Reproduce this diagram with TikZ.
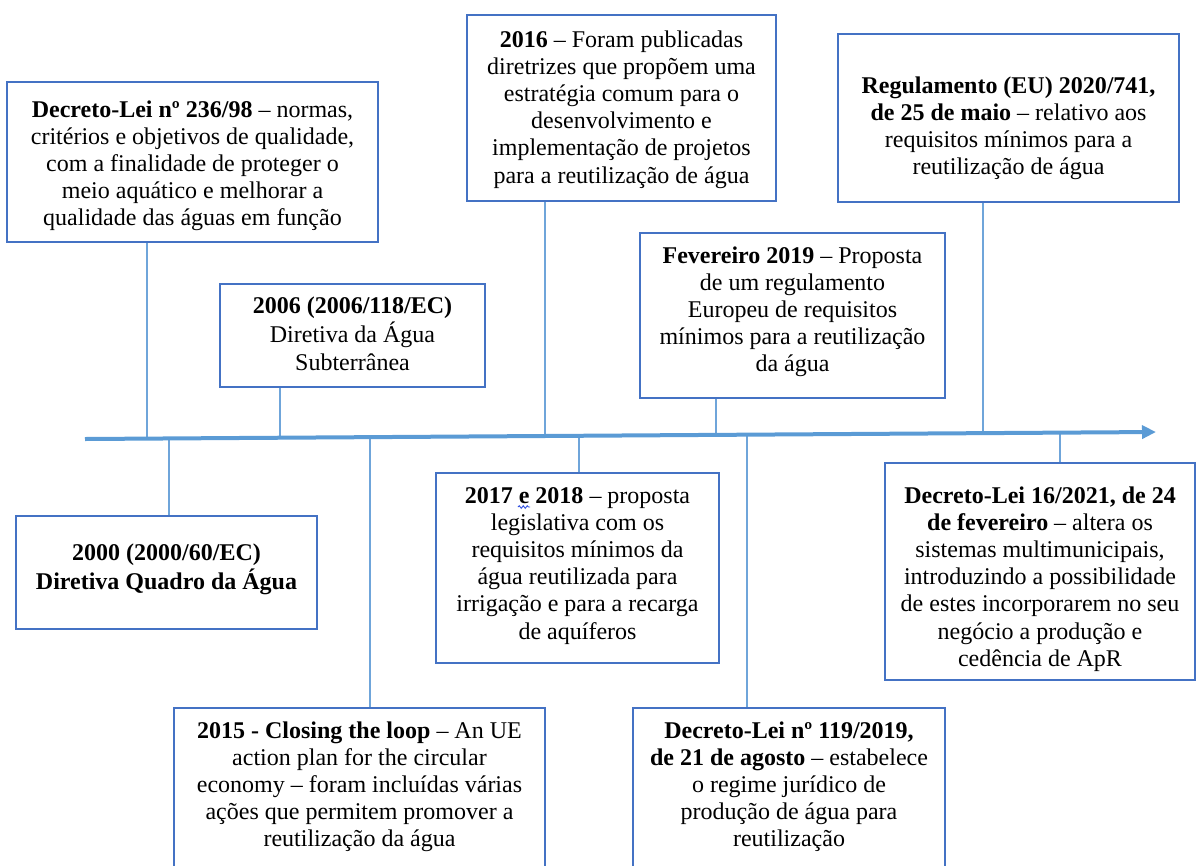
\documentclass[tikz,border=0pt]{standalone}
\usepackage{fontspec}
\setmainfont{Liberation Serif}
\usetikzlibrary{calc,arrows.meta,decorations.pathmorphing}
\definecolor{boxblue}{HTML}{4472C4}
\definecolor{axisblue}{HTML}{5B9BD5}
\definecolor{connblue}{HTML}{6FA5DA}
\definecolor{spellblue}{HTML}{3050E0}
\newcommand\evt[4]{\parbox[c][#1pt][t]{#2pt}{\centering\fontsize{24}{27.2}\selectfont\vspace*{#3pt}\strut #4}}
\begin{document}
\begin{tikzpicture}[x=1pt,y=-1pt,
  evbox/.style={draw=boxblue, line width=2.5pt, fill=white, inner sep=0pt},
  conn/.style={draw=connblue, line width=1.3pt},
  axisline/.style={draw=axisblue, line width=4pt, -{Triangle[length=14pt,width=13pt]}}]
\useasboundingbox (0,0) rectangle (1196,865);

% axis end points
\coordinate (A) at (85,439);
\coordinate (B) at (1156,432);

% boxes
\node[evbox, minimum width=371pt, minimum height=160pt] (b1) at (192.5,162)
  {\evt{160}{371}{16}{\textbf{Decreto-Lei nº 236/98} – normas,\\ critérios e objetivos de qualidade,\\ com a finalidade de proteger o\\ meio aquático e melhorar a\\ qualidade das águas em função}};
\node[evbox, minimum width=265pt, minimum height=103pt] (b2) at (352.5,335.5)
  {\evt{103}{265}{10}{\textbf{2006 (2006/118/EC)}\\ Diretiva da Água\\ Subterrânea}};
\node[evbox, minimum width=309pt, minimum height=186pt] (b3) at (621.5,108)
  {\evt{186}{309}{13}{\textbf{2016} – Foram publicadas\\ diretrizes que propõem uma\\ estratégia comum para o\\ desenvolvimento e\\ implementação de projetos\\ para a reutilização de água}};
\node[evbox, minimum width=305pt, minimum height=165pt] (b4) at (792.5,315.5)
  {\evt{165}{305}{11}{\textbf{Fevereiro 2019} – Proposta\\ de um regulamento\\ Europeu de requisitos\\ mínimos para a reutilização\\ da água}};
\node[evbox, minimum width=341pt, minimum height=168pt] (b5) at (1008.5,118)
  {\evt{168}{341}{40}{\textbf{Regulamento (EU) 2020/741,}\\ \textbf{de 25 de maio} – relativo aos\\ requisitos mínimos para a\\ reutilização de água}};
\node[evbox, minimum width=301pt, minimum height=113pt] (b6) at (166.5,572.5)
  {\evt{113}{301}{25}{\textbf{2000 (2000/60/EC)}\\ \textbf{Diretiva Quadro da Água}}};
\node[evbox, minimum width=371pt, minimum height=160pt] (b7) at (359.5,788)
  {\evt{160}{371}{11}{\textbf{2015 - Closing the loop} – An UE\\ action plan for the circular\\ economy – foram incluídas várias\\ ações que permitem promover a\\ reutilização da água}};
\node[evbox, minimum width=283pt, minimum height=190pt] (b8) at (577.5,568)
  {\evt{190}{283}{11}{\textbf{2017 e 2018} – proposta\\ legislativa com os\\ requisitos mínimos da\\ água reutilizada para\\ irrigação e para a recarga\\ de aquíferos}};
\node[evbox, minimum width=312pt, minimum height=160pt] (b9) at (789,788)
  {\evt{160}{312}{11}{\textbf{Decreto-Lei nº 119/2019,}\\ \textbf{de 21 de agosto} – estabelece\\ o regime jurídico de\\ produção de água para\\ reutilização}};
\node[evbox, minimum width=310pt, minimum height=217pt] (b10) at (1040,571.5)
  {\evt{217}{310}{21}{\textbf{Decreto-Lei 16/2021, de 24}\\ \textbf{de fevereiro} – altera os\\ sistemas multimunicipais,\\ introduzindo a possibilidade\\ de estes incorporarem no seu\\ negócio a produção e\\ cedência de ApR}};

% spell-check squiggle under "e" in box b8
\draw[spellblue, line width=0.9pt, decorate, decoration={snake, segment length=4pt, amplitude=1.3pt}] (518,507) -- (530,507);

% points on the axis
\coordinate (p1) at ($(A)!0.0579!(B)$);
\coordinate (p2) at ($(A)!0.1821!(B)$);
\coordinate (p3) at ($(A)!0.4295!(B)$);
\coordinate (p4) at ($(A)!0.5892!(B)$);
\coordinate (p5) at ($(A)!0.8385!(B)$);
\coordinate (p6) at ($(A)!0.0784!(B)$);
\coordinate (p7) at ($(A)!0.2661!(B)$);
\coordinate (p8) at ($(A)!0.4613!(B)$);
\coordinate (p9) at ($(A)!0.6181!(B)$);
\coordinate (p10) at ($(A)!0.9104!(B)$);

% connectors
\draw[conn] (p1) -- (p1 |- b1.south);
\draw[conn] (p2) -- (p2 |- b2.south);
\draw[conn] (p3) -- (p3 |- b3.south);
\draw[conn] (p4) -- (p4 |- b4.south);
\draw[conn] (p5) -- (p5 |- b5.south);
\draw[conn] (p6) -- (p6 |- b6.north);
\draw[conn] (p7) -- (p7 |- b7.north);
\draw[conn] (p8) -- (p8 |- b8.north);
\draw[conn] (p9) -- (p9 |- b9.north);
\draw[conn] (p10) -- (p10 |- b10.north);

% time axis
\draw[axisline] (A) -- (B);
\end{tikzpicture}
\end{document}
